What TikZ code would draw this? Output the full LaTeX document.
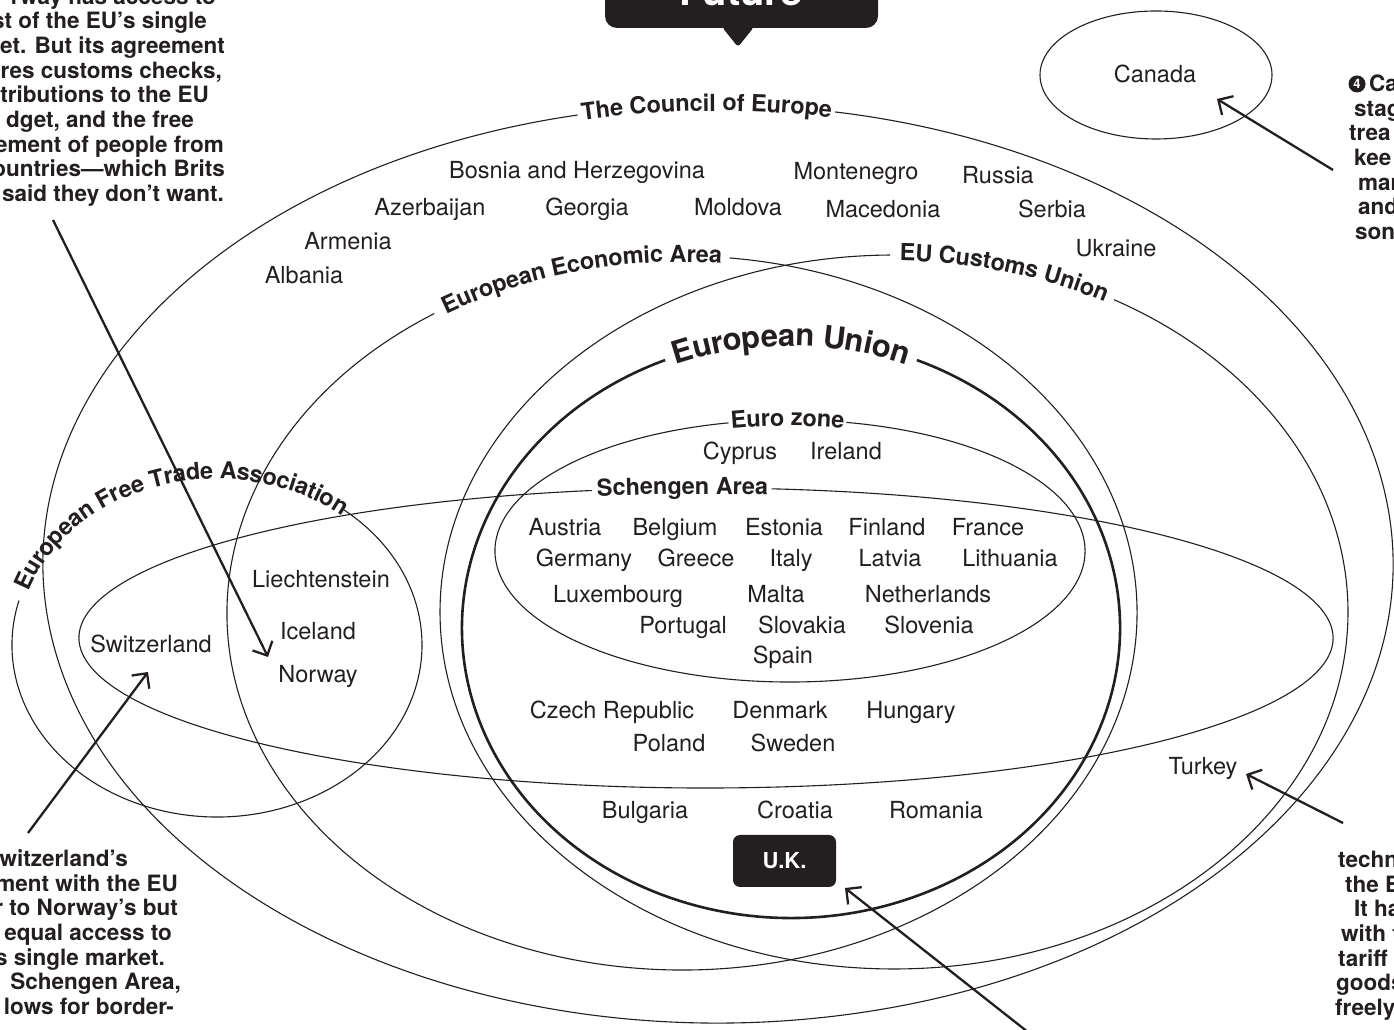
\documentclass[tikz,border=0pt]{standalone}
\usepackage{fontspec}
\setmainfont{TeX Gyre Heros}
\usetikzlibrary{arrows.meta,decorations.text}
\definecolor{ink}{HTML}{231F20}
\newcommand\lblfont{\bfseries\fontsize{23.5}{24}\selectfont\color{ink}}
\newcommand\eufont{\bfseries\fontsize{31}{32}\selectfont\color{ink}}
\tikzset{
  country/.style={font=\fontsize{23.5}{28}\selectfont, text=ink, inner sep=0pt, anchor=base},
  notee/.style={font=\bfseries\fontsize{22.5}{25}\selectfont, text=ink, inner sep=0pt, anchor=base east},
  notew/.style={font=\bfseries\fontsize{22.5}{25}\selectfont, text=ink, inner sep=0pt, anchor=base west},
  setline/.style={draw=ink, line width=1.1pt},
  euline/.style={draw=ink, line width=2.6pt},
  callarrow/.style={draw=ink, line width=2.3pt, -{Straight Barb[length=11pt,width=22pt]}},
  curvelabel/.style={decorate, decoration={text along path, text align=center, raise=-6pt, text={#1}}}
}
\begin{document}
\begin{tikzpicture}[x=1pt,y=1pt]
\useasboundingbox (0,0) rectangle (1394,1030);
\clip (0,0) rectangle (1394,1030);
\fill[white] (0,0) rectangle (1394,1030);

% --- callout box at top
\fill[ink, rounded corners=12pt] (605,1002) rectangle (878,1070);
\fill[ink, rounded corners=3pt] (722,1003) -- (738,983) -- (754,1003) -- cycle;
\node[font=\bfseries\fontsize{40}{40}\selectfont, text=white, inner sep=0pt, anchor=base] (future) at (741,1024) {Future};

% --- Council of Europe
\draw[setline] (718,466) ++(102:675 and 459) arc[start angle=102, end angle=440, x radius=675, y radius=459];
\path[curvelabel={|\lblfont|The Council of Europe}] (718,466) ++(111:675 and 459) arc[start angle=111, end angle=71, x radius=675, y radius=459];

% --- European Economic Area
\draw[setline] (682,417) ++(123:455 and 357) arc[start angle=123, end angle=444, x radius=455, y radius=357];
\path[curvelabel={|\lblfont|European Economic Area}] (682,417) ++(128.5:455 and 357) arc[start angle=128.5, end angle=78.5, x radius=455, y radius=357];

% --- EU Customs Union
\draw[setline] (894,418) ++(90.5:454 and 357) arc[start angle=90.5, end angle=421, x radius=454, y radius=357];
\path[curvelabel={|\lblfont|EU Customs Union}] (894,418) ++(95:454 and 357) arc[start angle=95, end angle=56, x radius=454, y radius=357];

% --- European Union
\draw[euline] (791,402) ++(112.5:329 and 290) arc[start angle=112.5, end angle=427.5, x radius=329, y radius=290];
\path[decorate, decoration={text along path, text align=center, raise=-8pt, text={|\eufont|European Union}}] (791,402) ++(120:329 and 290) arc[start angle=120, end angle=60, x radius=329, y radius=290];

% --- Euro zone
\draw[setline] (790,479) ++(102:295 and 131) arc[start angle=102, end angle=439, x radius=295, y radius=131];
\path[curvelabel={|\lblfont|Euro zone}] (790,479) ++(110:295 and 131) arc[start angle=110, end angle=71, x radius=295, y radius=131];

% --- Schengen Area
\draw[setline] (706,392) ++(100.5:627 and 150) arc[start angle=100.5, end angle=444, x radius=627, y radius=150];
\path[curvelabel={|\lblfont|Schengen Area}] (706,392) ++(105:627 and 150) arc[start angle=105, end angle=79.4, x radius=627, y radius=150];

% --- European Free Trade Association
\draw[setline] (217,385) ++(165:205 and 172) arc[start angle=165, end angle=412, x radius=205, y radius=172];
\path[curvelabel={|\lblfont|European Free Trade Association}] (217,385) ++(172:205 and 172) arc[start angle=172, end angle=41, x radius=205, y radius=172];

% --- Canada
\draw[setline] (1156,955) ellipse[x radius=116, y radius=64];

% --- countries
\node[country] (bosnia) at (577,851) {Bosnia and Herzegovina};
\node[country] (montenegro) at (856,850) {Montenegro};
\node[country] (russia) at (998,846) {Russia};
\node[country] (azerbaijan) at (430,814) {Azerbaijan};
\node[country] (georgia) at (587,814) {Georgia};
\node[country] (moldova) at (738,814) {Moldova};
\node[country] (macedonia) at (883,812) {Macedonia};
\node[country] (serbia) at (1052,812) {Serbia};
\node[country] (armenia) at (348,780) {Armenia};
\node[country] (albania) at (304,746) {Albania};
\node[country] (ukraine) at (1116,773) {Ukraine};
\node[country] (canada) at (1155,947) {Canada};
\node[country] (cyprus) at (740,570) {Cyprus};
\node[country] (ireland) at (846,570) {Ireland};
\node[country] (austria) at (565,494) {Austria};
\node[country] (belgium) at (675,494) {Belgium};
\node[country] (estonia) at (784,494) {Estonia};
\node[country] (finland) at (887,494) {Finland};
\node[country] (france) at (988,494) {France};
\node[country] (germany) at (584,463) {Germany};
\node[country] (greece) at (696,463) {Greece};
\node[country] (italy) at (791,463) {Italy};
\node[country] (latvia) at (890,463) {Latvia};
\node[country] (lithuania) at (1010,463) {Lithuania};
\node[country] (luxembourg) at (618,427) {Luxembourg};
\node[country] (malta) at (776,427) {Malta};
\node[country] (netherlands) at (928,427) {Netherlands};
\node[country] (portugal) at (683,396) {Portugal};
\node[country] (slovakia) at (802,396) {Slovakia};
\node[country] (slovenia) at (929,396) {Slovenia};
\node[country] (spain) at (783,366) {Spain};
\node[country] (czech) at (612,311) {Czech Republic};
\node[country] (denmark) at (780,311) {Denmark};
\node[country] (hungary) at (911,311) {Hungary};
\node[country] (poland) at (669,278) {Poland};
\node[country] (sweden) at (793,278) {Sweden};
\node[country] (turkey) at (1203,255) {Turkey};
\node[country] (bulgaria) at (645,211) {Bulgaria};
\node[country] (croatia) at (795,211) {Croatia};
\node[country] (romania) at (936,211) {Romania};
\node[country] (liechtenstein) at (321,442) {Liechtenstein};
\node[country] (iceland) at (318,390) {Iceland};
\node[country] (norway) at (318,347) {Norway};
\node[country] (switzerland) at (151,377) {Switzerland};
\node[fill=ink, rounded corners=7pt, minimum width=103pt, minimum height=52pt, inner sep=0pt,
      text=white, font=\bfseries\fontsize{22}{22}\selectfont] (uk) at (784.5,169) {U.K.};

% --- side notes, top left
\node[notee] (tl1) at (216,1025.5) {rway has access to};
\node[notee] (tl2) at (207,1001) {st of the EU’s single};
\node[notee] (tl3) at (225,976) {et. But its agreement};
\node[notee] (tl4) at (222,951.5) {res customs checks,};
\node[notee] (tl5) at (209,927) {tributions to the EU};
\node[notee] (tl6) at (194,902) {dget, and the free};
\node[notee] (tl7) at (224,877.5) {ement of people from};
\node[notee] (tl8) at (225,853) {ountries—which Brits};
\node[notee] (tl9) at (224,828) {said they don’t want.};

% --- side notes, bottom left
\node[notee] (bl1) at (128,163) {witzerland’s};
\node[notee] (bl2) at (178,138) {ment with the EU};
\node[notee] (bl3) at (178,114) {r to Norway’s but};
\node[notee] (bl4) at (172,89) {equal access to};
\node[notee] (bl5) at (165,64) {s single market.};
\node[notee] (bl6) at (181,40) {Schengen Area,};
\node[notee] (bl7) at (174,15) {lows for border-};

% --- side notes, top right
\node[circle, fill=ink, minimum size=17pt, inner sep=0pt, text=white,
      font=\bfseries\fontsize{13}{13}\selectfont] (num4) at (1357,946) {4};
\node[notew] (tr1) at (1369,938) {Ca};
\node[notew] (tr2) at (1354,913.5) {stag};
\node[notew] (tr3) at (1349,889) {trea};
\node[notew] (tr4) at (1354,864) {kee};
\node[notew] (tr5) at (1358,839.5) {mar};
\node[notew] (tr6) at (1358,815) {and};
\node[notew] (tr7) at (1355,790) {son};

% --- side notes, bottom right
\node[notew] (br1) at (1338,162) {techn};
\node[notew] (br2) at (1345,137) {the E};
\node[notew] (br3) at (1354,113) {It ha};
\node[notew] (br4) at (1341,88) {with t};
\node[notew] (br5) at (1338,63) {tariff};
\node[notew] (br6) at (1336,39) {goods};
\node[notew] (br7) at (1335,14) {freely};

% --- arrows
\coordinate (nwS) at (53,810);
\coordinate (nwT) at (268,373);
\coordinate (swS) at (28,197);
\coordinate (swT) at (148,358);
\coordinate (caS) at (1333,860);
\coordinate (caT) at (1217,931);
\coordinate (tuS) at (1343,207);
\coordinate (tuT) at (1246,256);
\coordinate (ukS) at (1038,-10);
\coordinate (ukT) at (845,142);
\draw[callarrow] (nwS) -- (nwT);
\draw[callarrow] (swS) -- (swT);
\draw[callarrow] (caS) -- (caT);
\draw[callarrow] (tuS) -- (tuT);
\draw[callarrow] (ukS) -- (ukT);
\end{tikzpicture}
\end{document}
